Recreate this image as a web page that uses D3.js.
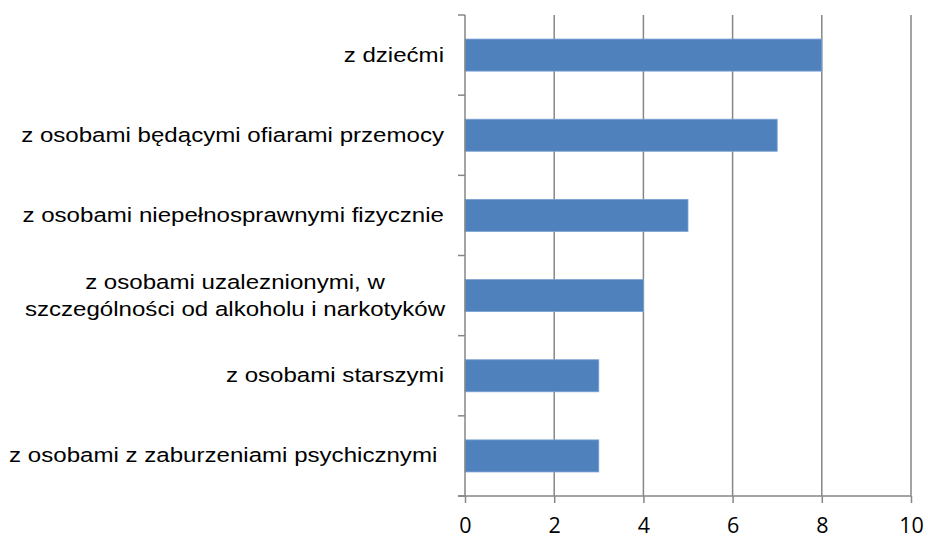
<!DOCTYPE html>
<html>
<head>
<meta charset="utf-8">
<script src="https://cdn.jsdelivr.net/npm/d3@7"></script>
<style>
  body { margin: 0; background: #fff; }
  svg { display: block; }
</style>
</head>
<body>
<div id="chart"></div>
<script>
// data
var categories = [
  "z dziećmi",
  "z osobami będącymi ofiarami przemocy",
  "z osobami niepełnosprawnymi fizycznie",
  "z osobami uzaleznionymi, w|szczególności od alkoholu i narkotyków",
  "z osobami starszymi",
  "z osobami z zaburzeniami psychicznymi "
];
var values = [8, 7, 5, 4, 3, 3];
var ticks = [0, 2, 4, 6, 8, 10];

var width = 928, height = 539;
var plotLeft = 465, plotRight = 911, plotTop = 15, plotBottom = 496;
var grey = "#868686";

var svg = d3.select("#chart").append("svg")
  .attr("width", width)
  .attr("height", height);

var x = d3.scaleLinear().domain([0, 10]).range([plotLeft, plotRight]);
var y = d3.scaleBand().domain(categories).range([plotTop, plotBottom]).paddingInner(0.6).paddingOuter(0.3);
var yb = d3.scaleBand().domain(categories).range([plotTop, plotBottom]);

// grid lines
svg.append("g").selectAll("line")
  .data(ticks.filter(function(d) { return d > 0; }))
  .enter().append("line")
  .attr("x1", function(d) { return x(d); })
  .attr("x2", function(d) { return x(d); })
  .attr("y1", plotTop).attr("y2", plotBottom)
  .attr("stroke", grey).attr("stroke-width", 1.5);

// bars
svg.append("g").selectAll("rect")
  .data(values)
  .enter().append("rect")
  .attr("x", x(0))
  .attr("y", function(d, i) { return y(categories[i]); })
  .attr("width", function(d) { return x(d) - x(0); })
  .attr("height", y.bandwidth())
  .attr("fill", "#4f81bd")
  .attr("stroke", "#7ea3d3").attr("stroke-width", 0.8);

// x axis
var xAxis = d3.axisBottom(x).tickValues(ticks).tickSize(7).tickFormat(d3.format("d"));
var gx = svg.append("g").attr("transform", "translate(0," + plotBottom + ")").call(xAxis);
gx.select(".domain").attr("d", "M" + (plotLeft - 7) + ",0H" + plotRight).attr("stroke", grey).attr("stroke-width", 1.5);
gx.selectAll(".tick line").attr("stroke", grey).attr("stroke-width", 1.5);
gx.selectAll(".tick text")
  .attr("y", 37)
  .attr("dy", 0)
  .attr("fill", "#000")
  .style("font-family", "'Open Sans', 'Liberation Sans', sans-serif")
  .style("font-size", "21.5px");

// y axis line with band ticks
var gy = svg.append("g");
gy.append("line")
  .attr("x1", plotLeft).attr("x2", plotLeft)
  .attr("y1", plotTop).attr("y2", plotBottom)
  .attr("stroke", grey).attr("stroke-width", 1.5);
var bounds = categories.map(function(c) { return yb(c); }).concat([plotBottom]);
gy.selectAll("line.t")
  .data(bounds)
  .enter().append("line")
  .attr("class", "t")
  .attr("x1", plotLeft - 7).attr("x2", plotLeft)
  .attr("y1", function(d) { return d; }).attr("y2", function(d) { return d; })
  .attr("stroke", grey).attr("stroke-width", 1.5);

// category labels (the source text is a bit wider than it is tall)
var labels = svg.append("g")
  .style("font-family", "'Liberation Sans', Arial, sans-serif")
  .style("font-size", "19.5px")
  .attr("fill", "#000");
categories.forEach(function(c) {
  var lines = c.split("|");
  var cy = yb(c) + yb.bandwidth() / 2;
  lines.forEach(function(l, j) {
    var tx = lines.length > 1 ? 235 : 444;
    var ty = cy + 6.5 + (j - (lines.length - 1) / 2) * 27;
    labels.append("text")
      .attr("xml:space", "preserve")
      .attr("text-anchor", lines.length > 1 ? "middle" : "end")
      .attr("transform", "translate(" + tx + "," + ty + ") scale(1.235,1)")
      .text(l);
  });
});
</script>
</body>
</html>
